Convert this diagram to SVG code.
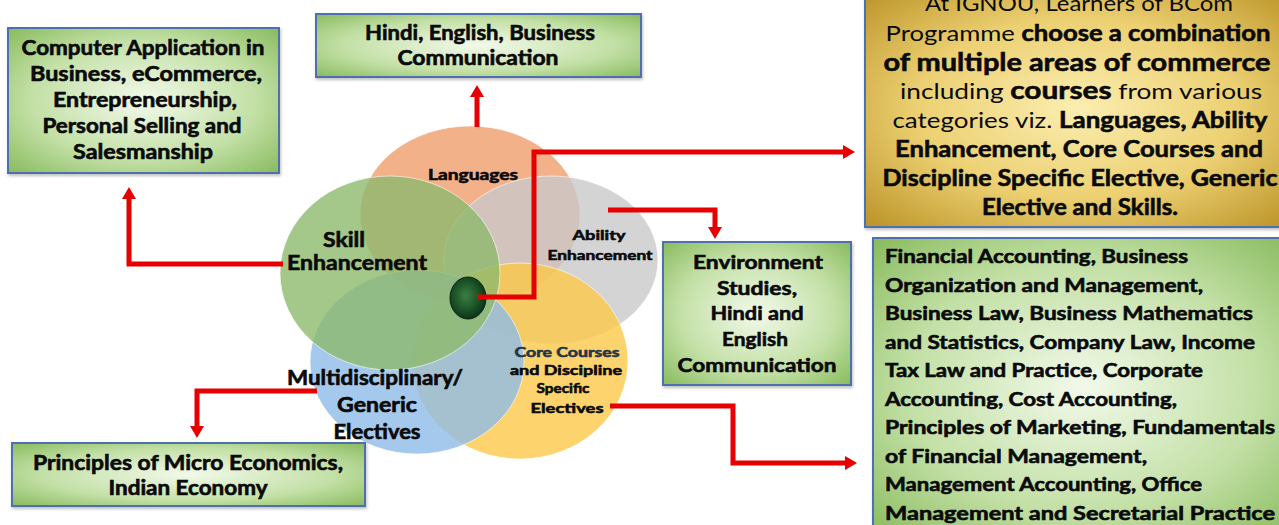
<svg xmlns="http://www.w3.org/2000/svg" width="1279" height="525" viewBox="0 0 1279 525">
<defs>
<radialGradient id="gGreen" cx="0.5" cy="0.5" r="0.75">
<stop offset="0" stop-color="#f2f9ea"/>
<stop offset="0.55" stop-color="#c3e0a6"/>
<stop offset="1" stop-color="#7fb552"/>
</radialGradient>
<radialGradient id="gGold" cx="0.5" cy="0.5" r="0.75">
<stop offset="0" stop-color="#fbeeb0"/>
<stop offset="0.5" stop-color="#ecd072"/>
<stop offset="1" stop-color="#b48a1c"/>
</radialGradient>
<radialGradient id="gCore" cx="0.45" cy="0.45" r="0.6">
<stop offset="0" stop-color="#3a7f42"/>
<stop offset="0.6" stop-color="#1a5126"/>
<stop offset="1" stop-color="#0b2c14"/>
</radialGradient>
<marker id="ah" viewBox="0 0 12 14" refX="0" refY="7" markerWidth="12" markerHeight="14" markerUnits="userSpaceOnUse" orient="auto">
<path d="M0,0 L12,7 L0,14 z" fill="#e60000"/>
</marker>
<filter id="sh" x="-5%" y="-5%" width="110%" height="115%">
<feDropShadow dx="1" dy="2" stdDeviation="1.5" flood-color="#000" flood-opacity="0.25"/>
</filter>
</defs>
<style>
.box{stroke:#4f6fae;stroke-width:2}
.t{font-family:Lato,"Liberation Sans",sans-serif;font-weight:bold;fill:#0a0a0a;stroke:#0a0a0a;stroke-width:0.6;text-anchor:middle}
.tl{font-family:Lato,"Liberation Sans",sans-serif;font-weight:bold;fill:#0a0a0a;stroke:#0a0a0a;stroke-width:0.6}
.n{font-weight:normal;stroke:none}
.ell{stroke:#ffffff;stroke-opacity:0.6;stroke-width:1}
.con{fill:none;stroke:#e60000;stroke-width:5;stroke-linejoin:miter;stroke-linecap:butt}
</style>
<rect width="1279" height="525" fill="#ffffff"/>

<g id="venn">
<ellipse class="ell" cx="470" cy="215" rx="110" ry="89" fill="#f09d6d" fill-opacity="0.8"/>
<ellipse class="ell" cx="551" cy="260" rx="107" ry="84" fill="#c9c9c9" fill-opacity="0.8"/>
<ellipse class="ell" cx="520" cy="361" rx="108" ry="98" fill="#fbc847" fill-opacity="0.8"/>
<ellipse class="ell" cx="417" cy="362" rx="107" ry="92" fill="#8ebbe7" fill-opacity="0.8"/>
<ellipse class="ell" cx="390" cy="273" rx="110" ry="97" fill="#8db96d" fill-opacity="0.8"/>
<ellipse cx="468" cy="298" rx="18" ry="21" fill="url(#gCore)" stroke="#0a2410" stroke-width="1"/>
</g>

<g id="connectors">
<path class="con" d="M477,297 H534 V152 H843" marker-end="url(#ah)"/>
<path class="con" d="M608,210 H715 V227" marker-end="url(#ah)"/>
<path class="con" d="M283,264 H129 V199" marker-end="url(#ah)"/>
<path class="con" d="M317,391 H197 V426" marker-end="url(#ah)"/>
<path class="con" d="M610,406 H733 V463 H845" marker-end="url(#ah)"/>
<path class="con" d="M477,127 V97" marker-end="url(#ah)"/>
</g>

<g id="label-languages">
<text class="t" x="473" y="180" font-size="15" textLength="90" lengthAdjust="spacingAndGlyphs">Languages</text>
</g>
<g id="label-skill">
<text class="t" x="344" y="247" font-size="20" textLength="42" lengthAdjust="spacingAndGlyphs">Skill</text>
<text class="t" x="357" y="270" font-size="20" textLength="140" lengthAdjust="spacingAndGlyphs">Enhancement</text>
</g>
<g id="label-ability">
<text class="t" x="599" y="240" font-size="14" textLength="53" lengthAdjust="spacingAndGlyphs">Ability</text>
<text class="t" x="600" y="260" font-size="14" textLength="105" lengthAdjust="spacingAndGlyphs">Enhancement</text>
</g>
<g id="label-core">
<text class="t" x="567" y="357" font-size="14" textLength="105" lengthAdjust="spacingAndGlyphs" style="fill:#22354a;stroke:#22354a">Core Courses</text>
<text class="t" x="566" y="375" font-size="14" textLength="112" lengthAdjust="spacingAndGlyphs">and Discipline</text>
<text class="t" x="563" y="393" font-size="14" textLength="53" lengthAdjust="spacingAndGlyphs">Specific</text>
<text class="t" x="567" y="413" font-size="14" textLength="73" lengthAdjust="spacingAndGlyphs">Electives</text>
</g>
<g id="label-multi">
<text class="t" x="375" y="385" font-size="20" textLength="176" lengthAdjust="spacingAndGlyphs">Multidisciplinary/</text>
<text class="t" x="377" y="412" font-size="20" textLength="80" lengthAdjust="spacingAndGlyphs">Generic</text>
<text class="t" x="377" y="439" font-size="20" textLength="87" lengthAdjust="spacingAndGlyphs">Electives</text>
</g>

<g id="box-skill">
<rect class="box" x="8" y="28" width="271" height="145" fill="url(#gGreen)" filter="url(#sh)"/>
<text class="t" x="143" y="55" font-size="20" textLength="243" lengthAdjust="spacingAndGlyphs">Computer Application in</text>
<text class="t" x="146" y="81" font-size="20" textLength="232" lengthAdjust="spacingAndGlyphs">Business, eCommerce,</text>
<text class="t" x="145" y="107" font-size="20" textLength="184" lengthAdjust="spacingAndGlyphs">Entrepreneurship,</text>
<text class="t" x="142" y="133" font-size="20" textLength="199" lengthAdjust="spacingAndGlyphs">Personal Selling and</text>
<text class="t" x="143" y="159" font-size="20" textLength="140" lengthAdjust="spacingAndGlyphs">Salesmanship</text>
</g>

<g id="box-languages">
<rect class="box" x="316" y="14" width="325" height="63" fill="url(#gGreen)" filter="url(#sh)"/>
<text class="t" x="480" y="40" font-size="20" textLength="230" lengthAdjust="spacingAndGlyphs">Hindi, English, Business</text>
<text class="t" x="478" y="65" font-size="20" textLength="161" lengthAdjust="spacingAndGlyphs">Communication</text>
</g>

<g id="box-ability">
<rect class="box" x="663" y="242" width="188" height="143" fill="url(#gGreen)" filter="url(#sh)"/>
<text class="t" x="758" y="269" font-size="19" textLength="130" lengthAdjust="spacingAndGlyphs">Environment</text>
<text class="t" x="757" y="295" font-size="19" textLength="80" lengthAdjust="spacingAndGlyphs">Studies,</text>
<text class="t" x="757" y="320" font-size="19" textLength="93" lengthAdjust="spacingAndGlyphs">Hindi and</text>
<text class="t" x="755" y="346" font-size="19" textLength="66" lengthAdjust="spacingAndGlyphs">English</text>
<text class="t" x="757" y="372" font-size="19" textLength="159" lengthAdjust="spacingAndGlyphs">Communication</text>
</g>

<g id="box-multi">
<rect class="box" x="12" y="443" width="353" height="63" fill="url(#gGreen)" filter="url(#sh)"/>
<text class="t" x="188" y="470" font-size="20" textLength="310" lengthAdjust="spacingAndGlyphs">Principles of Micro Economics,</text>
<text class="t" x="188" y="495" font-size="20" textLength="159" lengthAdjust="spacingAndGlyphs">Indian Economy</text>
</g>

<g id="box-summary">
<rect class="box" x="865" y="-10" width="425" height="237" fill="url(#gGold)" filter="url(#sh)"/>
<text class="t" x="1079" y="11" font-size="22" textLength="308" lengthAdjust="spacingAndGlyphs"><tspan class="n">At IGNOU, Learners of BCom</tspan></text>
<text class="t" x="1078" y="41" font-size="22" textLength="385" lengthAdjust="spacingAndGlyphs"><tspan class="n">Programme </tspan>choose a combination</text>
<text class="t" x="1077" y="71" font-size="25" textLength="387" lengthAdjust="spacingAndGlyphs">of multiple areas of commerce</text>
<text class="t" x="1081" y="99" font-size="22" textLength="362" lengthAdjust="spacingAndGlyphs"><tspan class="n">including </tspan><tspan font-size="25">courses</tspan><tspan class="n"> from various</tspan></text>
<text class="t" x="1080" y="128" font-size="22" textLength="375" lengthAdjust="spacingAndGlyphs"><tspan class="n">categories viz. </tspan>Languages, Ability</text>
<text class="t" x="1079" y="157" font-size="22" textLength="368" lengthAdjust="spacingAndGlyphs">Enhancement, Core Courses and</text>
<text class="t" x="1080" y="186" font-size="22" textLength="395" lengthAdjust="spacingAndGlyphs">Discipline Specific Elective, Generic</text>
<text class="t" x="1080" y="215" font-size="22" textLength="196" lengthAdjust="spacingAndGlyphs">Elective and Skills.</text>
</g>

<g id="box-core">
<rect class="box" x="873" y="238" width="420" height="300" fill="url(#gGreen)" filter="url(#sh)"/>
<text class="tl" x="885" y="263" font-size="19" textLength="303" lengthAdjust="spacingAndGlyphs">Financial Accounting, Business</text>
<text class="tl" x="885" y="291.5" font-size="19" textLength="318" lengthAdjust="spacingAndGlyphs">Organization and Management,</text>
<text class="tl" x="885" y="320" font-size="19" textLength="368" lengthAdjust="spacingAndGlyphs">Business Law, Business Mathematics</text>
<text class="tl" x="885" y="348.5" font-size="19" textLength="370" lengthAdjust="spacingAndGlyphs">and Statistics, Company Law, Income</text>
<text class="tl" x="885" y="377" font-size="19" textLength="318" lengthAdjust="spacingAndGlyphs">Tax Law and Practice, Corporate</text>
<text class="tl" x="885" y="405.5" font-size="19" textLength="292" lengthAdjust="spacingAndGlyphs">Accounting, Cost Accounting,</text>
<text class="tl" x="885" y="434" font-size="19" textLength="390" lengthAdjust="spacingAndGlyphs">Principles of Marketing, Fundamentals</text>
<text class="tl" x="885" y="462.5" font-size="19" textLength="262" lengthAdjust="spacingAndGlyphs">of Financial Management,</text>
<text class="tl" x="885" y="491" font-size="19" textLength="317" lengthAdjust="spacingAndGlyphs">Management Accounting, Office</text>
<text class="tl" x="885" y="519.5" font-size="19" textLength="390" lengthAdjust="spacingAndGlyphs">Management and Secretarial Practice</text>
</g>
</svg>
